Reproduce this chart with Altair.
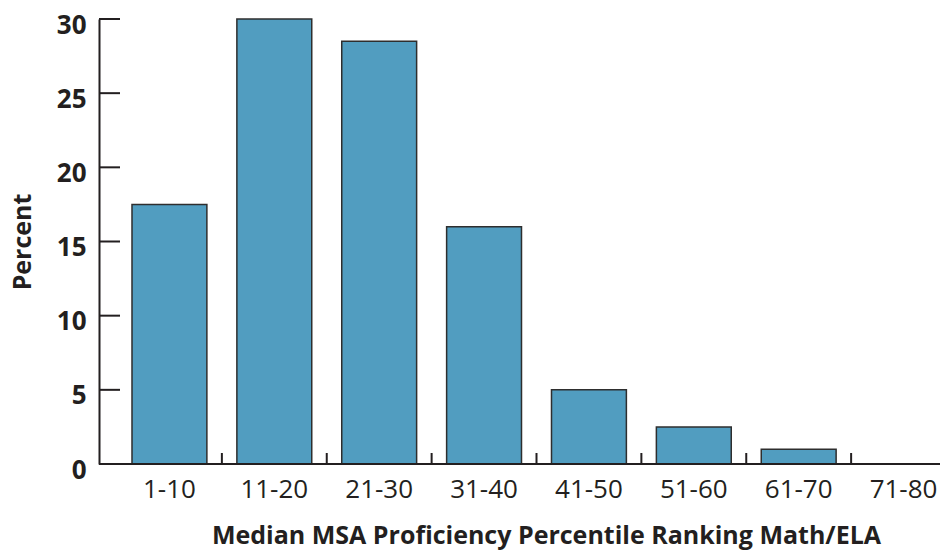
import altair as alt
import pandas as pd

categories = ["1-10", "11-20", "21-30", "31-40", "41-50", "51-60", "61-70", "71-80"]
percent = [17.5, 30, 28.5, 16, 5, 2.5, 1, 0]
y_ticks = [0, 5, 10, 15, 20, 25, 30]

W, H = 841, 445
INK = "#231f20"
FONT = "Open Sans"
X_TITLE = "Median MSA Proficiency Percentile Ranking Math/ELA"
Y_TITLE = "Percent"

df = pd.DataFrame({"range": categories, "percent": percent})
tick_df = pd.DataFrame({"percent": y_ticks})
bnd_df = pd.DataFrame({"range": categories[1:]})
one_df = pd.DataFrame({"percent": [0]})

xscale = alt.Scale(domain=categories, range=[18, 857], paddingInner=0, paddingOuter=0)
yscale = alt.Scale(domain=[0, 30], nice=False, zero=True)

x_axis = alt.Axis(
    title=X_TITLE,
    labelAngle=0, ticks=False, domain=False, grid=False,
    labelFont=FONT, labelFontSize=26, labelColor=INK, labelPadding=12,
    titleFont=FONT, titleFontWeight="bold", titleFontSize=25, titleColor=INK,
    titleX=447, titleY=79, titleBaseline="alphabetic",
)
y_axis = alt.Axis(
    title=Y_TITLE, values=y_ticks, ticks=False, grid=False,
    domainColor=INK, domainWidth=2,
    labelFont=FONT, labelFontWeight="bold", labelFontSize=26, labelColor=INK,
    labelPadding=13, labelOffset=6,
    titleFont=FONT, titleFontSize=25, titleFontWeight="bold", titleColor=INK,
    titlePadding=21,
)

bars = alt.Chart(df).mark_bar(
    width=alt.RelativeBandSize(0.714), color="#519dc0",
    stroke="#2e2e2e", strokeWidth=1.5,
).encode(
    x=alt.X("range:N", scale=xscale, axis=x_axis, sort=categories),
    y=alt.Y("percent:Q", scale=yscale, axis=y_axis),
)

baseline = alt.Chart(one_df).mark_rule(color=INK, strokeWidth=2).encode(
    x=alt.value(0), x2=alt.value(W),
    y=alt.Y("percent:Q", scale=yscale, title=Y_TITLE),
)

x_ticks = alt.Chart(bnd_df).mark_rule(color=INK, strokeWidth=2).encode(
    x=alt.X("range:N", scale=xscale, sort=categories, bandPosition=0, title=X_TITLE),
    y=alt.value(H), y2=alt.value(H - 11),
)

y_tick_marks = alt.Chart(tick_df).mark_rule(color=INK, strokeWidth=2).encode(
    y=alt.Y("percent:Q", scale=yscale, title=Y_TITLE),
    x=alt.value(0), x2=alt.value(21),
)

chart = alt.layer(bars, baseline, x_ticks, y_tick_marks).properties(
    width=W, height=H,
    padding={"left": 91, "top": 11, "right": 0, "bottom": 87},
    autosize=alt.AutoSizeParams(type="none"),
).configure_view(stroke=None)

chart.save("out.html", embed_options={"renderer": "svg", "actions": False})
